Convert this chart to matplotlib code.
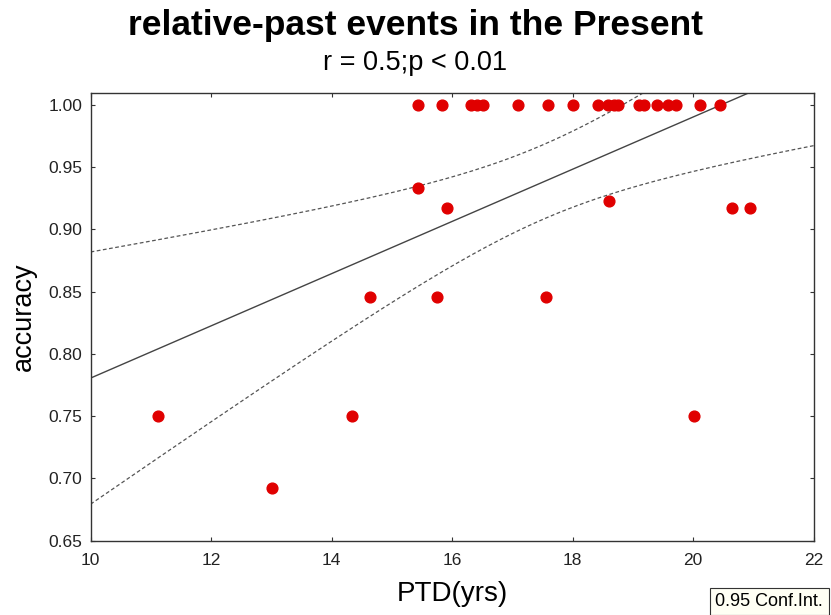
import numpy as np
import matplotlib.pyplot as plt

plt.rcParams['font.family'] = ['Liberation Sans', 'DejaVu Sans']

# PTD (years) and accuracy per participant
ptd = [15.43, 15.84, 16.32, 16.42, 16.51, 17.09, 17.59, 18.01, 18.42, 18.59,
       18.68, 18.75, 19.10, 19.18, 19.40, 19.59, 19.71, 20.11, 20.44,
       15.44, 15.92, 18.60, 20.65, 20.94,
       14.63, 15.75, 17.56,
       11.12, 14.34, 20.01,
       13.01]
accuracy = [1.0] * 19 + [0.933, 0.917, 0.923, 0.917, 0.917,
                         0.846, 0.846, 0.846,
                         0.75, 0.75, 0.75,
                         0.692]

x = np.array(ptd)
y = np.array(accuracy)
n = len(x)

# linear fit and 95% confidence band of the mean
slope, intercept = np.polyfit(x, y, 1)
resid = y - (intercept + slope * x)
s = np.sqrt(np.sum(resid ** 2) / (n - 2))
t_crit = 2.045  # t(0.975, df=29)
xs = np.linspace(10, 22, 200)
fit = intercept + slope * xs
half = t_crit * s * np.sqrt(1 / n + (xs - x.mean()) ** 2 / np.sum((x - x.mean()) ** 2))

fig = plt.figure(figsize=(8.31, 6.15), dpi=100)
ax = fig.add_axes([0.109, 0.121, 0.870, 0.728])

ax.plot(xs, fit, color='#444444', lw=1.0)
ax.plot(xs, fit + half, color='#555555', lw=0.9, ls=(0, (3, 2)))
ax.plot(xs, fit - half, color='#555555', lw=0.9, ls=(0, (3, 2)))
ax.scatter(x, y, s=60, color='#e00000', edgecolors='#e00000', zorder=3, clip_on=False)

ax.set_xlim(10, 22)
ax.set_ylim(0.65, 1.0097)
ax.set_xticks([10, 12, 14, 16, 18, 20, 22])
ax.set_yticks([0.65, 0.70, 0.75, 0.80, 0.85, 0.90, 0.95, 1.00])
ax.set_yticklabels(['%.2f' % v for v in ax.get_yticks()])
ax.tick_params(direction='in', length=3, top=True, right=True,
               labelsize=12.5, labelcolor='#222222', color='#333333', width=0.8)
ax.tick_params(axis='x', pad=9)
ax.tick_params(axis='y', pad=6)
for sp in ax.spines.values():
    sp.set_color('#333333')
    sp.set_linewidth(1.0)

ax.set_xlabel('PTD(yrs)', fontsize=20, labelpad=9)
ax.set_ylabel('accuracy', fontsize=19.5, labelpad=8)

fig.text(0.5, 0.958, 'relative-past events in the Present', ha='center', va='center',
         fontsize=25.5, fontweight='bold')
fig.text(0.5, 0.897, 'r = 0.5;p < 0.01', ha='center', va='center', fontsize=19.5)

fig.text(0.861, 0.022, '0.95 Conf.Int.', ha='left', va='center', fontsize=13,
         bbox=dict(boxstyle='square,pad=0.3', facecolor='#fffff4', edgecolor='#333333', lw=0.8))

fig.savefig('out.png', dpi=100)
